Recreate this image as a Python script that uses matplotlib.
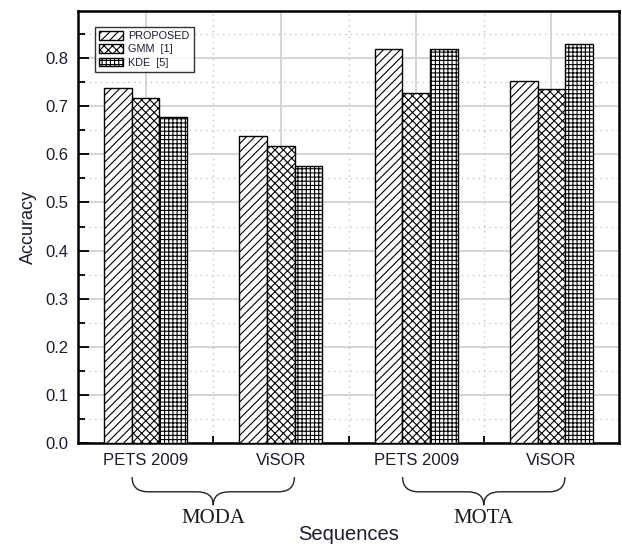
import numpy as np
import matplotlib
matplotlib.use("Agg")
import matplotlib.pyplot as plt
from matplotlib.path import Path
from matplotlib.patches import PathPatch
from matplotlib.ticker import MultipleLocator, FixedLocator

plt.rcParams['font.family'] = ['Liberation Sans', 'DejaVu Sans']
plt.rcParams['hatch.linewidth'] = 0.8

sequences = ["PETS 2009", "ViSOR", "PETS 2009", "ViSOR"]
metrics = ["MODA", "MOTA"]
methods = ["PROPOSED", "GMM  [1]", "KDE  [5]"]
proposed = [0.738, 0.638, 0.819, 0.752]
gmm = [0.717, 0.618, 0.727, 0.736]
kde = [0.678, 0.576, 0.819, 0.829]

hatches = ["////", "xxxx", "++++"]
txt_color = "#1c1c2c"

fig = plt.figure(figsize=(6.22, 5.46), dpi=100)
ax = fig.add_axes([78 / 622, 1 - 443 / 546, (619 - 78) / 622, (443 - 11) / 546])

x = np.arange(1, len(sequences) + 1)
w = 0.205
for i, (vals, h, lab) in enumerate(zip([proposed, gmm, kde], hatches, methods)):
    ax.bar(x + (i - 1) * w, vals, width=w, facecolor="white", edgecolor="black",
           hatch=h, linewidth=1.0, label=lab, zorder=3)

ax.set_xlim(0.5, 4.5)
ax.set_ylim(0, 0.898)
ax.set_xticks(x)
ax.set_xticklabels(sequences)
ax.xaxis.set_minor_locator(FixedLocator([1.5, 2.5, 3.5]))
ax.yaxis.set_major_locator(MultipleLocator(0.1))
ax.yaxis.set_minor_locator(MultipleLocator(0.05))
ax.yaxis.set_major_formatter(plt.FormatStrFormatter("%.1f"))

ax.tick_params(which="major", direction="in", length=8, width=1.3, labelsize=12,
               colors="black", labelcolor=txt_color, pad=7)
ax.tick_params(which="minor", direction="in", length=5, width=1.3)
for s in ax.spines.values():
    s.set_linewidth(1.8)

ax.grid(which="major", color="#d2d2d2", linewidth=1.3, linestyle="-", zorder=0)
ax.grid(which="minor", color="#c4c4c4", linewidth=1.0, linestyle=(0, (1, 3)), zorder=0)
ax.set_axisbelow(True)

ax.set_ylabel("Accuracy", fontsize=13, color=txt_color, labelpad=6)
ax.set_xlabel("Sequences", fontsize=14.5, color=txt_color, labelpad=41.5)

leg = ax.legend(loc="upper left", bbox_to_anchor=(0.031, 0.963), fontsize=7.8,
                frameon=True, fancybox=False, edgecolor="black", handlelength=2.2,
                handleheight=0.85, labelspacing=0.28, borderpad=0.4, handletextpad=0.5,
                borderaxespad=0)
leg.get_frame().set_linewidth(1.0)
for t in leg.get_texts():
    t.set_color(txt_color)

# curly braces under the tick labels
trans = ax.get_xaxis_transform()
y_top, y_mid, y_tip = -0.079, -0.113, -0.144
r = 0.12
for xc, name in zip([1.5, 3.5], metrics):
    x0, x1 = xc - 0.6, xc + 0.6
    verts = [(x0, y_top), (x0, y_mid), (x0 + r, y_mid),
             (xc - r, y_mid), (xc, y_mid), (xc, y_tip),
             (xc, y_mid), (xc + r, y_mid),
             (x1 - r, y_mid), (x1, y_mid), (x1, y_top)]
    codes = [Path.MOVETO, Path.CURVE3, Path.CURVE3,
             Path.LINETO, Path.CURVE3, Path.CURVE3,
             Path.CURVE3, Path.CURVE3,
             Path.LINETO, Path.CURVE3, Path.CURVE3]
    ax.add_patch(PathPatch(Path(verts, codes), transform=trans, fill=False,
                           edgecolor="#222222", linewidth=1.0, clip_on=False))
    ax.text(xc, -0.174, name, transform=trans, ha="center", va="center",
            fontsize=15, family=["Liberation Serif", "DejaVu Serif"], color="#1a1a1a")

fig.savefig("out.png", dpi=100)
